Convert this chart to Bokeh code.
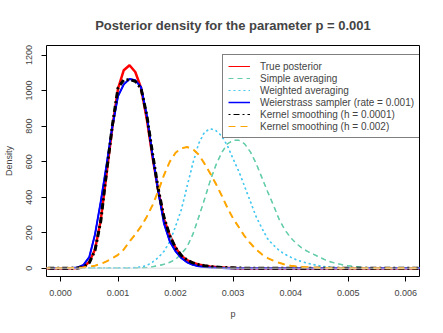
from bokeh.plotting import figure
from bokeh.models import Range1d, FixedTicker, Legend, LegendItem, Span, PrintfTickFormatter
from bokeh.embed import file_html
from bokeh.resources import INLINE

# grid of p values (-0.0003 .. 0.0063)
p_grid = [-0.0003, -0.0002, -0.0001, 0.0000, 0.0001, 0.0002, 0.0003, 0.0004, 0.0005, 0.0006,
          0.0007, 0.0008, 0.0009, 0.0010, 0.0011, 0.0012, 0.0013, 0.0014, 0.0015, 0.0016,
          0.0017, 0.0018, 0.0019, 0.0020, 0.0021, 0.0022, 0.0023, 0.0024, 0.0025, 0.0026,
          0.0027, 0.0028, 0.0029, 0.0030, 0.0031, 0.0032, 0.0033, 0.0034, 0.0035, 0.0036,
          0.0037, 0.0038, 0.0039, 0.0040, 0.0041, 0.0042, 0.0043, 0.0044, 0.0045, 0.0046,
          0.0047, 0.0048, 0.0049, 0.0050, 0.0051, 0.0052, 0.0053, 0.0054, 0.0055, 0.0056,
          0.0057, 0.0058, 0.0059, 0.0060, 0.0061, 0.0062, 0.0063]

true_posterior = [0, 0, 0, 0, 0, 0,
                  1, 8, 35, 105, 270, 530, 790, 1011, 1115, 1143, 1105, 1015, 840, 625,
                  435, 275, 185, 115, 70, 45, 30, 21, 14, 9, 6, 4, 2, 1,
                  0, 0, 0, 0, 0, 0, 0, 0, 0, 0, 0, 0, 0, 0, 0, 0, 0, 0, 0, 0, 0, 0, 0, 0,
                  0, 0, 0, 0, 0, 0, 0, 0, 0]

simple_avg = [0, 0, 0, 0, 0, 0, 0, 0, 0, 0, 0, 0, 0, 0, 0, 0,
              1, 2, 4, 8, 14, 22, 33, 50, 80, 120, 190, 285, 385, 490, 580, 650, 700, 720,
              720, 700, 655, 590, 510, 430, 355, 275, 215, 172, 138, 112, 93, 78, 62, 47,
              35, 26, 19, 13, 9, 6, 3, 2, 1,
              0, 0, 0, 0, 0, 0, 0, 0]

weighted_avg = [0, 0, 0, 0, 0, 0, 0, 0, 0, 0, 0, 0, 0, 0,
                0.5, 1, 3, 6, 15, 34, 60, 95, 150, 235, 330, 460, 590, 700, 765, 785,
                775, 745, 690, 615, 545, 460, 375, 290, 225, 165, 130, 100, 78, 62, 47,
                36, 27, 20, 13, 8, 5, 3, 1.5, 0.5,
                0, 0, 0, 0, 0, 0, 0, 0, 0, 0, 0, 0, 0]

weierstrass = [0, 0, 0, 0, 0,
               1, 4, 18, 62, 190, 375, 580, 795, 969, 1035, 1065, 1058, 1020, 860, 635,
               430, 250, 150, 95, 57, 33, 19, 11, 6, 3, 2, 1,
               0, 0, 0, 0, 0, 0, 0, 0, 0, 0, 0, 0, 0, 0, 0, 0, 0, 0, 0, 0, 0, 0, 0, 0,
               0, 0, 0, 0, 0, 0, 0, 0, 0, 0, 0]

kernel_small = [0, 0, 0, 0, 0, 0,
                1, 6, 30, 100, 265, 540, 800, 1015, 1060, 1062, 1052, 1012, 862, 645,
                445, 285, 182, 115, 72, 46, 30, 20, 14, 9, 6, 4, 3, 2, 1,
                0, 0, 0, 0, 0, 0, 0, 0, 0, 0, 0, 0, 0, 0, 0, 0, 0, 0, 0, 0, 0, 0, 0, 0,
                0, 0, 0, 0, 0, 0, 0, 0]

kernel_large = [0, 0, 0, 0, 0,
                1, 2, 4, 8, 14, 24, 38, 55, 75, 105, 150, 190, 235, 290, 355,
                435, 525, 600, 650, 675, 682, 670, 640, 590, 535, 475, 410, 340, 280, 230,
                180, 140, 105, 78, 57, 42, 30, 20, 14, 10, 7, 5, 3, 2, 1,
                0, 0, 0, 0, 0, 0, 0, 0, 0, 0, 0, 0, 0, 0, 0, 0, 0]

x_ticks = [0.000, 0.001, 0.002, 0.003, 0.004, 0.005, 0.006]
y_ticks = [0, 200, 400, 600, 800, 1000, 1200]

series = [
    ("True posterior", true_posterior, "#FF0000", 2.5, "solid"),
    ("Simple averaging", simple_avg, "#66CDAA", 1.5, "5 4"),
    ("Weighted averaging", weighted_avg, "#45C8F0", 1.6, "2 3"),
    ("Weierstrass sampler (rate = 0.001)", weierstrass, "#0000FF", 2, "solid"),
    ("Kernel smoothing (h = 0.0001)", kernel_small, "#000000", 3, "2 3 6 3"),
    ("Kernel smoothing (h = 0.002)", kernel_large, "#FFA500", 2, "7 5"),
]
legend_width = [1, 1, 1, 1.5, 1, 1]

FONT = "Liberation Sans"

p = figure(width=443, height=333, output_backend="svg", toolbar_location=None,
           x_range=Range1d(-0.000243, 0.006239), y_range=Range1d(-47, 1254),
           min_border_left=45, min_border_right=24, min_border_top=45, min_border_bottom=57,
           title="Posterior density for the parameter p = 0.001")

p.title.text_font = FONT
p.title.text_font_size = "13px"
p.title.text_font_style = "bold"
p.title.align = "center"
p.title.standoff = 25

p.xgrid.visible = False
p.ygrid.visible = False
p.outline_line_color = "black"
p.outline_line_width = 1
p.background_fill_color = "white"
p.border_fill_color = "white"

p.add_layout(Span(location=0, dimension="width", line_color="#DDDDDD", line_width=1))

legend_items = []
for (label, vals, color, lw, dash), lwid in zip(series, legend_width):
    # thin copy (hidden beneath the thick line) used as the legend sample
    thin = p.line(p_grid, vals, line_color=color, line_width=lwid, line_dash=dash)
    p.line(p_grid, vals, line_color=color, line_width=lw, line_dash=dash)
    legend_items.append(LegendItem(label=label, renderers=[thin]))

legend = Legend(items=legend_items, location=(176, 138))
legend.label_text_font = FONT
legend.label_text_font_size = "10px"
legend.glyph_width = 22
legend.glyph_height = 12
legend.label_height = 12
legend.label_standoff = 10
legend.spacing = 0
legend.padding = 5
legend.margin = 0
legend.border_line_color = "black"
legend.border_line_width = 1
legend.background_fill_color = "white"
legend.background_fill_alpha = 1
p.add_layout(legend)

for ax in (p.xaxis, p.yaxis):
    ax.axis_line_color = None
    ax.major_tick_out = 5
    ax.major_tick_in = 0
    ax.minor_tick_line_color = None
    ax.major_tick_line_color = "black"
    ax.major_label_text_font = FONT
    ax.major_label_text_font_size = "9px"
    ax.axis_label_text_font = FONT
    ax.axis_label_text_font_size = "9px"
    ax.axis_label_text_font_style = "normal"

p.xaxis.ticker = FixedTicker(ticks=x_ticks)
p.xaxis.formatter = PrintfTickFormatter(format="%.3f")
p.xaxis.axis_label = "p"
p.xaxis.major_label_standoff = 8
p.xaxis.axis_label_standoff = 10

p.yaxis.ticker = FixedTicker(ticks=y_ticks)
p.yaxis.axis_label = "Density"
p.yaxis.major_label_orientation = "vertical"
p.yaxis.major_label_standoff = 9
p.yaxis.axis_label_standoff = 10

open("out.html", "w").write(file_html(p, INLINE))
